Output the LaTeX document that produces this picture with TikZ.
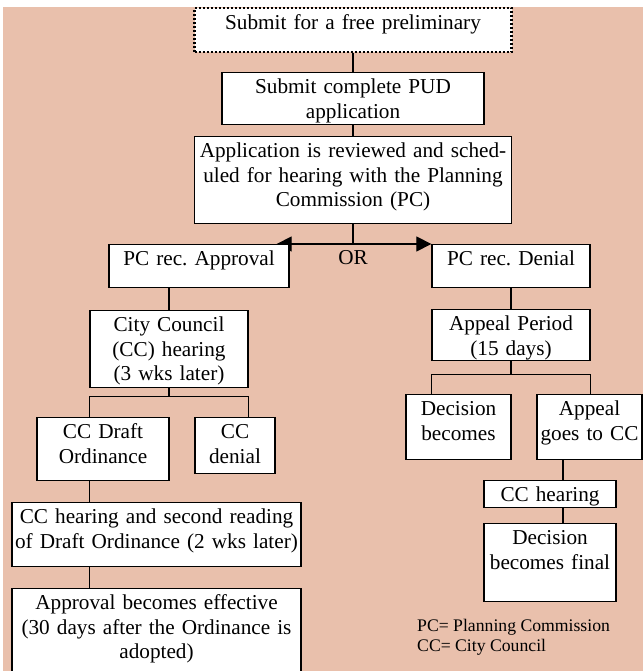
\documentclass[tikz,border=0pt]{standalone}
\usepackage{fontspec}
\setmainfont{Liberation Serif}
\frenchspacing
\usetikzlibrary{arrows.meta}
\usetikzlibrary{backgrounds}
\definecolor{salmonbg}{RGB}{233,192,172}
\tikzset{
box/.style={ % white boxes, text hangs from the top edge
draw, fill=white, line width=1.3bp, anchor=north, align=center,
inner xsep=2bp, inner ysep=4bp, text height=17bp,
font=\fontsize{21.3}{24.5}\selectfont},
link/.style={draw, line width=1.2bp}, % plain connectors
pick/.style={-{Triangle[length=15bp,width=15bp]}}}

\begin{document}
\begin{tikzpicture}[x=1bp, y=1bp]
	\useasboundingbox (0,0) rectangle (643,671);
	% main column
	\node[box, dash pattern=on 2bp off 2bp, line width=2.2bp, text width=313bp, text depth=19bp] (prelim) at (353,664) {Submit for a free preliminary};
	\node[box, text width=258bp, text depth=27bp] (pud) at (353,599) {Submit complete PUD\\application};
	\node[box, text width=313bp, text depth=62bp] (review) at (353,535) {Application is reviewed and sched-\\uled for hearing with the Planning\\Commission (PC)};
	\node[box, text width=176bp, text depth=18bp] (approve) at (199,427) {PC rec. Approval};
	\node[box, text width=154bp, text depth=18bp] (deny) at (511,427) {PC rec. Denial};
	\node[font=\fontsize{21.3}{24.5}\selectfont] (or) at (353,413) {OR};
	% approval side
	\node[box, text width=154bp, text depth=52bp] (council) at (169,361) {City Council\\(CC) hearing\\(3 wks later)};
	\node[box, text width=128bp, text depth=38bp] (draft) at (103,254) {CC Draft\\Ordinance};
	\node[box, text width=76bp, text depth=31bp] (ccdeny) at (235,254) {CC\\denial};
	\node[box, text width=285bp, text depth=39bp] (second) at (156.5,169) {CC hearing and second reading\\of Draft Ordinance (2 wks later)};
	\node[box, text width=285bp, text depth=75bp] (effective) at (156.5,83) {Approval becomes effective\\(30 days after the Ordinance is\\adopted)};
	% denial side
	\node[box, text width=154bp, text depth=26bp] (period) at (511,362) {Appeal Period\\(15 days)};
	\node[box, text width=101bp, text depth=40bp] (decision) at (458.5,277) {Decision\\becomes};
	\node[box, text width=101bp, text depth=40bp] (appeal) at (589.5,277) {Appeal\\goes to CC};
	\node[box, text width=128bp, text depth=2bp] (cchear) at (550,191) {CC hearing};
	\node[box, text width=128bp, text depth=53bp] (final) at (550,148) {Decision\\becomes final};
	\node[anchor=north west, align=left, inner sep=0pt, font=\fontsize{17.75}{20.4}\selectfont] (legend) at (417,52) {PC= Planning Commission\\CC= City Council};
	\coordinate (ax) at (563,0);
	\begin{pgfonlayer}{background}
	\fill[salmonbg] (3,0) rectangle (643,664);
	\draw[link] (prelim) -- (pud);
	\draw[link] (pud) -- (review);
	\draw[link] (review.south) -- (review.south |- approve.north);
	\draw[link, pick] (review.south |- approve.north) -- ([xshift=-13bp]approve.north east);
	\draw[link, pick] (review.south |- deny.north) -- (deny.north west);
	\draw[link] (council.north) -- (council.north |- approve.south);
	\draw[link] (council.south) -- ++(0,-8) coordinate (cfork);
	\draw[link] (draft.north -| council.west) |- (cfork) -| (ccdeny.north -| council.east);
	\draw[link] (draft.south -| council.west) -- (second.north -| council.west);
	\draw[link] (second.south -| council.west) -- (effective.north -| council.west);
	\draw[link] (deny) -- (period);
	\draw[link] (period.south) -- ++(0,-13) coordinate (pfork);
	\draw[link] (decision.north -| period.west) |- (pfork) -| (appeal.north -| period.east);
	\draw[link] (appeal.south -| ax) -- (cchear.north -| ax);
	\draw[link] (cchear.south -| ax) -- (final.north -| ax);
	\end{pgfonlayer}
\end{tikzpicture}
\end{document}
